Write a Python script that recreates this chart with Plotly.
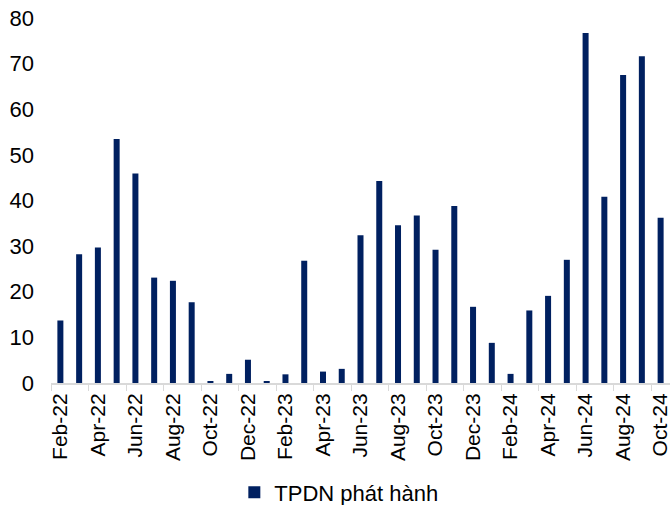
import plotly.graph_objects as go

months = ["Feb-22", "Mar-22", "Apr-22", "May-22", "Jun-22", "Jul-22", "Aug-22", "Sep-22",
          "Oct-22", "Nov-22", "Dec-22", "Jan-23", "Feb-23", "Mar-23", "Apr-23", "May-23",
          "Jun-23", "Jul-23", "Aug-23", "Sep-23", "Oct-23", "Nov-23", "Dec-23", "Jan-24",
          "Feb-24", "Mar-24", "Apr-24", "May-24", "Jun-24", "Jul-24", "Aug-24", "Sep-24",
          "Oct-24"]
issued = [13.7, 28.2, 29.7, 53.5, 45.9, 23.1, 22.4, 17.7,
          0.3, 2.0, 5.1, 0.3, 1.9, 26.8, 2.5, 3.1,
          32.4, 44.3, 34.6, 36.7, 29.2, 38.8, 16.7, 8.8,
          2.0, 15.9, 19.1, 27.0, 76.7, 40.8, 67.5, 71.6,
          36.2]
y_ticks = [0, 10, 20, 30, 40, 50, 60, 70, 80]

font = "Liberation Sans, Arial, sans-serif"

fig = go.Figure(data=[
    go.Bar(
        x=months,
        y=issued,
        name="TPDN phát hành",
        marker=dict(color="#002060", line=dict(width=0)),
        showlegend=True,
    )
])

fig.update_layout(
    width=670,
    height=505,
    margin=dict(l=51, r=0, t=18, b=122, autoexpand=False),
    plot_bgcolor="white",
    paper_bgcolor="white",
    bargap=0.68,
    font=dict(family=font, size=21, color="#000000"),
    xaxis=dict(
        type="category",
        tickmode="linear",
        tick0=0,
        dtick=2,
        tickson="boundaries",
        tickangle=-90,
        ticks="outside",
        ticklen=6,
        tickcolor="#d9d9d9",
        showline=True,
        linecolor="#d9d9d9",
        linewidth=2,
        showgrid=False,
        automargin=False,
        tickfont=dict(size=21),
    ),
    yaxis=dict(
        range=[0, 80],
        tickvals=y_ticks,
        showgrid=False,
        zeroline=False,
        showline=False,
        ticks="",
        ticklabelstandoff=16,
        automargin=False,
        tickfont=dict(size=22),
    ),
    legend=dict(
        orientation="h",
        x=0.465,
        xanchor="center",
        y=-0.30,
        yanchor="middle",
        font=dict(size=22),
        itemwidth=30,
    ),
)

fig.write_html("out.html", config={"displayModeBar": False},
               post_script="document.body.style.margin='0';")
